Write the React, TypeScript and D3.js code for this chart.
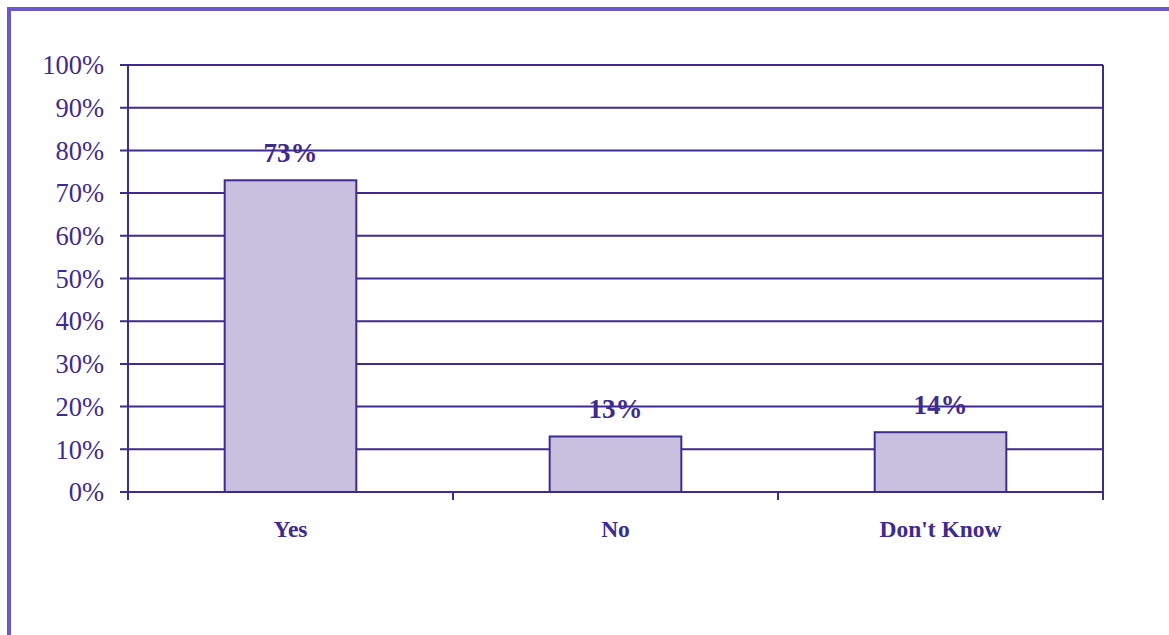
import React from "react";
import * as d3 from "d3";

const categories = ["Yes", "No", "Don't Know"];
const values = [73, 13, 14];
const yTicks = [0, 10, 20, 30, 40, 50, 60, 70, 80, 90, 100];

const width = 1169;
const height = 635;
const margin = { left: 128, right: 66, top: 65, bottom: 143 };
const ink = "#3f2a8d";
const serif = "'Liberation Serif', 'Times New Roman', serif";

export default function App() {
  const x = d3
    .scaleBand<string>()
    .domain(categories)
    .range([margin.left, width - margin.right])
    .paddingInner(0.595)
    .paddingOuter(0.2975);
  const step = (width - margin.right - margin.left) / categories.length;
  const y = d3
    .scaleLinear()
    .domain([0, 100])
    .range([height - margin.bottom, margin.top]);
  const x0 = margin.left;
  const x1 = width - margin.right;
  const y0 = y(0);

  return (
    <svg
      width={width}
      height={height}
      style={{ position: "absolute", left: 0, top: 0, background: "#fff" }}
    >
      {/* outer frame */}
      <path d={`M9,${height} V9 H${width}`} fill="none" stroke="#6a58cc" strokeWidth={4} />

      {/* grid lines + y ticks */}
      {yTicks.map((t) => (
        <g key={t}>
          <line x1={x0 - 8} x2={x1} y1={y(t)} y2={y(t)} stroke={ink} strokeWidth={2} />
          <text
            x={104}
            y={y(t)}
            dy="0.35em"
            textAnchor="end"
            fontFamily={serif}
            fontSize={26.5}
            fill={ink}
          >
            {t}%
          </text>
        </g>
      ))}

      {/* axes */}
      <line x1={x0} x2={x0} y1={y(100)} y2={y0 + 8} stroke={ink} strokeWidth={2} />
      <line x1={x1} x2={x1} y1={y(100)} y2={y0 + 8} stroke={ink} strokeWidth={2} />
      {categories.slice(1).map((c, i) => (
        <line
          key={c}
          x1={x0 + step * (i + 1)}
          x2={x0 + step * (i + 1)}
          y1={y0}
          y2={y0 + 8}
          stroke={ink}
          strokeWidth={2}
        />
      ))}

      {/* bars */}
      {categories.map((c, i) => (
        <g key={c}>
          <rect
            x={x(c)}
            y={y(values[i])}
            width={x.bandwidth()}
            height={y0 - y(values[i])}
            fill="#c9c0df"
            stroke={ink}
            strokeWidth={2}
          />
          <text
            x={(x(c) as number) + x.bandwidth() / 2}
            y={y(values[i]) - 18}
            textAnchor="middle"
            fontFamily={serif}
            fontWeight="bold"
            fontSize={27}
            fill={ink}
          >
            {values[i]}%
          </text>
          <text
            x={(x(c) as number) + x.bandwidth() / 2}
            y={537}
            textAnchor="middle"
            fontFamily={serif}
            fontWeight="bold"
            fontSize={23.5}
            fill={ink}
          >
            {c}
          </text>
        </g>
      ))}
      <line x1={x0} x2={x1} y1={y0} y2={y0} stroke={ink} strokeWidth={2} />
    </svg>
  );
}
